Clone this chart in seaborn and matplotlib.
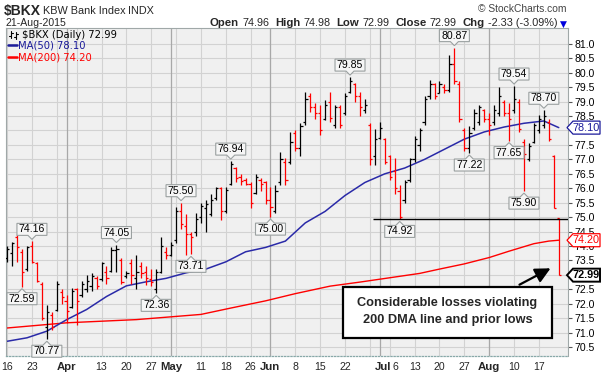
import matplotlib
matplotlib.use("Agg")
import matplotlib.pyplot as plt
import seaborn as sns
import numpy as np
import pandas as pd
from matplotlib import font_manager
from matplotlib.transforms import IdentityTransform
from matplotlib.patches import Polygon, FancyArrowPatch, Rectangle
from matplotlib.lines import Line2D

# ---------------- data ----------------
opens = [73.6, 73.75, 74.3, 73.8, 73.2, 74.0, 73.4, 72.7, 71.2, 71.6,
         71.8, 72.4, 72.1, 71.9, 72.5, 72.3, 72.5, 72.6, 72.9, 72.85,
         73.1, 73.15, 73.85, 73.5, 72.95, 73.4, 72.9, 73.3, 73.1, 72.85,
         72.5, 73.1, 73.8, 73.7, 74.2, 75.2, 74.7, 74.4, 74.5, 75.0,
         75.3, 75.1, 75.65, 76.0, 75.2, 76.15, 76.7, 76.4, 76.3, 76.15,
         75.85, 76.3, 76.2, 75.6, 75.2, 76.2, 76.9, 76.9, 77.9, 77.4,
         78.3, 79.2, 78.8, 78.6, 78.4, 79.0, 78.2, 78.8, 78.6, 79.35,
         79.6, 79.2, 78.7, 78.2, 77.1, 77.75, 77.7, 77.1, 76.6, 75.9,
         75.6, 76.3, 77.0, 77.5, 78.3, 79.2, 79.6, 79.3, 79.5, 79.4,
         80.3, 79.6, 78.0, 77.4, 78.1, 78.3, 78.7, 78.4, 78.3, 78.6,
         79.0, 78.6, 78.7, 79.0, 77.6, 77.0, 77.6, 78.0, 78.2, 78.3,
         77.1, 74.96]
highs = [74.0, 74.15, 74.4, 73.9, 74.0, 74.16, 73.45, 72.75, 71.95, 71.7,
         72.8, 72.5, 72.3, 72.55, 72.55, 72.8, 73.0, 73.05, 72.95, 73.45,
         73.3, 73.95, 74.05, 73.6, 73.15, 73.55, 73.7, 73.45, 73.3, 73.2,
         73.2, 74.3, 73.95, 74.15, 75.35, 75.50, 75.1, 74.5, 75.15, 75.5,
         75.6, 75.8, 76.05, 76.05, 76.05, 76.94, 76.75, 76.5, 76.35, 76.2,
         76.5, 76.35, 76.25, 76.05, 76.1, 77.25, 77.05, 77.95, 78.0, 78.25,
         79.35, 79.3, 78.95, 78.9, 79.05, 79.35, 78.9, 78.9, 79.3, 79.85,
         79.65, 79.35, 79.1, 78.25, 78.05, 78.3, 77.75, 77.15, 77.05, 76.1,
         76.3, 77.05, 77.8, 78.1, 79.2, 79.75, 79.65, 79.7, 79.6, 80.6,
         80.87, 79.7, 78.1, 78.15, 78.75, 78.9, 78.75, 78.6, 78.9, 79.5,
         79.05, 78.95, 79.54, 79.1, 77.7, 77.55, 78.25, 78.55, 78.70, 78.4,
         77.15, 74.98]
lows = [73.45, 73.3, 73.45, 72.59, 73.15, 73.4, 72.75, 71.45, 70.77, 71.1,
        71.75, 72.0, 71.35, 71.85, 71.25, 72.25, 72.4, 72.45, 72.5, 72.8,
        72.7, 73.1, 73.1, 72.7, 72.9, 72.7, 72.5, 72.9, 72.65, 72.6,
        72.36, 73.05, 73.55, 73.65, 74.1, 74.6, 73.7, 73.71, 74.35, 74.8,
        74.5, 75.05, 75.6, 74.9, 75.15, 76.1, 76.2, 76.1, 76.1, 75.3,
        75.8, 75.9, 75.45, 75.00, 75.15, 76.1, 76.1, 76.85, 77.3, 77.1,
        78.2, 78.65, 78.4, 77.85, 78.35, 78.3, 78.1, 78.1, 78.55, 79.3,
        79.0, 78.5, 78.6, 76.8, 76.8, 77.7, 76.85, 76.3, 75.8, 74.92,
        75.5, 76.2, 76.9, 77.3, 78.2, 79.1, 79.1, 79.3, 79.3, 79.35,
        79.6, 78.3, 77.3, 77.22, 78.0, 78.2, 78.3, 77.85, 78.2, 78.5,
        78.5, 77.65, 78.6, 77.95, 75.90, 76.95, 77.55, 77.9, 78.1, 77.65,
        75.32, 72.99]
closes = [73.9, 74.1, 73.95, 73.1, 73.95, 73.45, 72.8, 71.5, 71.7, 71.2,
          72.7, 72.25, 71.75, 72.45, 72.1, 72.7, 72.8, 72.95, 72.6, 73.4,
          72.9, 73.85, 73.9, 72.75, 73.05, 73.0, 73.1, 73.05, 72.9, 72.75,
          73.1, 74.0, 73.7, 74.05, 75.2, 74.75, 74.4, 74.3, 74.95, 75.4,
          75.45, 75.6, 76.0, 75.2, 75.95, 76.85, 76.35, 76.25, 76.15, 75.5,
          76.4, 76.15, 75.6, 75.35, 75.9, 77.0, 76.3, 77.6, 77.4, 78.15,
          79.1, 78.8, 78.6, 78.0, 78.9, 78.45, 78.8, 78.2, 79.2, 79.7,
          79.2, 78.8, 78.9, 77.0, 77.7, 78.1, 76.9, 76.4, 76.0, 75.0,
          76.2, 77.0, 77.7, 78.0, 79.1, 79.6, 79.2, 79.6, 79.4, 80.3,
          79.7, 78.4, 77.4, 77.9, 78.6, 78.8, 78.4, 78.2, 78.7, 79.2,
          78.6, 78.4, 79.1, 78.05, 77.2, 77.45, 78.2, 78.4, 78.5, 77.7,
          75.32, 72.99]

ma50_idx = [0, 4, 8, 12, 16, 20, 24, 28, 32, 36, 40, 44, 48, 52, 56, 60, 64,
            68, 72, 76, 80, 84, 88, 92, 96, 100, 104, 108, 111]
ma50_val = [70.7, 70.82, 71.05, 71.45, 71.8, 72.25, 72.62, 72.76, 72.88, 73.07,
            73.2, 73.45, 73.8, 73.95, 74.17, 74.8, 75.2, 75.75, 76.2, 76.5,
            76.7, 77.0, 77.35, 77.7, 77.95, 78.12, 78.25, 78.33, 78.10]
ma200_idx = [0, 12, 26, 39, 45, 52, 58, 65, 71, 75, 79, 83, 87, 92, 97, 101,
             106, 109, 111]
ma200_val = [71.16, 71.34, 71.45, 71.63, 71.85, 72.1, 72.35, 72.61, 72.75, 72.85,
             72.95, 73.05, 73.2, 73.38, 73.6, 73.82, 74.08, 74.17, 74.20]

tick_pos = [0, 5, 12, 19, 24, 29, 33, 39, 44, 49, 53, 58, 63, 68, 75.6, 78.1, 82,
            87, 92, 97, 102, 107]
tick_labels = ["16", "23", "Apr", "13", "20", "27", "May", "11", "18", "26",
               "Jun", "8", "15", "22", "Jul", "6", "13", "20", "27", "Aug",
               "10", "17"]
month_names = ["Apr", "May", "Jun", "Jul", "Aug"]
week_lines = [0, 5, 10, 14, 19, 24, 29, 34, 39, 44, 49, 53, 58, 63, 68, 73,
              77, 82, 87, 92, 97, 102, 107]
month_lines = [12, 33, 53, 75, 97]

label_bars = [5, 3, 8, 22, 30, 35, 37, 45, 53, 69, 79, 90, 93, 102, 101, 104, 108]
label_kind = ["h", "l", "l", "h", "l", "h", "l", "h", "l", "h", "l", "h", "l",
              "h", "l", "l", "h"]

level_value = 74.95
last_close = 72.99
ma50_last = 78.10
ma200_last = 74.20
hidden_ticks = [78.0, 73.0]   # fully covered by the value tags in the reference

# ---------------- style ----------------
sns.set_style("white")
plt.rcParams['font.family'] = ['Liberation Sans', 'DejaVu Sans']

try:
    font_manager.findfont(font_manager.FontProperties(family='Liberation Sans Narrow',
                                                      weight='bold'),
                          fallback_to_default=False)
    title_font = dict(family=['Liberation Sans Narrow', 'Liberation Sans'], fontsize=12.2)
except Exception:
    title_font = dict(family=['Liberation Sans', 'DejaVu Sans'], fontsize=10)

W, H = 603, 374
fig = plt.figure(figsize=(W / 100, H / 100), dpi=100)
fig.patch.set_facecolor('white')
ax = fig.add_axes([6 / W, 1 - 356 / H, 562 / W, 328 / H])
ax.set_facecolor('#f0f0f0')
XMIN, XMAX = -0.22, 112.86
YMIN, YMAX = 70.19, 81.55
ax.set_xlim(XMIN, XMAX)
ax.set_ylim(YMIN, YMAX)

# grid
yt = np.arange(70.5, 81.01, 0.5)
ax.hlines(yt, XMIN, XMAX, color='#d2d2d2', lw=0.8, zorder=0)
ax.vlines(week_lines, YMIN, YMAX, color='#d2d2d2', lw=0.8, zorder=0)
ax.vlines(month_lines, YMIN, YMAX, color='#a8a8a8', lw=0.9, zorder=0)

# OHLC bars
df = pd.DataFrame({'o': opens, 'h': highs, 'l': lows, 'c': closes})
df['i'] = np.arange(len(df))
prev = df['c'].shift(1).fillna(df['c'].iloc[0] - 1)
df['col'] = np.where(df['c'] >= prev, '#000000', '#ff0000')
tw = 0.45
ax.vlines(df['i'], df['l'], df['h'], colors=df['col'], lw=0.9, zorder=3)
ax.hlines(df['o'], df['i'] - tw, df['i'], colors=df['col'], lw=0.9, zorder=3)
ax.hlines(df['c'], df['i'], df['i'] + tw, colors=df['col'], lw=0.9, zorder=3)

# moving averages
sns.lineplot(x=ma200_idx, y=ma200_val, color='#ff0000', lw=1.0, ax=ax, zorder=2)
sns.lineplot(x=ma50_idx, y=ma50_val, color='#2a2aa8', lw=1.1, ax=ax, zorder=2)

# prior-low level line
ax.hlines(level_value, 73.6, XMAX, color='black', lw=1.0, zorder=4)

# axes styling
for s in ['left', 'top', 'right']:
    ax.spines[s].set_color('#a0a8a8')
    ax.spines[s].set_linewidth(0.8)
ax.spines['bottom'].set_color('#88a8a8')
ax.spines['bottom'].set_linestyle((0, (1, 1.5)))
ax.spines['bottom'].set_linewidth(0.9)

ax.yaxis.tick_right()
ax.set_yticks(yt)
ax.set_yticklabels(["" if any(abs(v - h) < 1e-6 for h in hidden_ticks) else f"{v:.1f}"
                    for v in yt])
ax.tick_params(axis='y', length=3, width=0.8, color='#555555', labelsize=7.6,
               pad=1.5, labelcolor='black')
ax.set_xticks(tick_pos)
ax.set_xticklabels(tick_labels)
ax.tick_params(axis='x', length=0, labelsize=7.6, pad=4)
for t in ax.get_xticklabels():
    if t.get_text() in month_names:
        t.set_fontweight('bold')
        t.set_fontsize(8.2)
ax.set_xlabel('')
ax.set_ylabel('')

fig.canvas.draw()
renderer = fig.canvas.get_renderer()
ID = IdentityTransform()


def px(x, ytop):
    return x, H - ytop


def seq_text(x, ytop, pieces, align='left'):
    arts, widths = [], []
    for txt, props, gap in pieces:
        t = fig.text(0, 0, txt, transform=ID, ha='left', va='baseline', **props)
        w = t.get_window_extent(renderer).width
        arts.append(t)
        widths.append(w + gap)
    total = sum(widths)
    cx = x - total if align == 'right' else x
    for t, w in zip(arts, widths):
        t.set_position((cx, H - ytop))
        cx += w


# header
fig.text(*px(4, 15.5), "$BKX", transform=ID, fontweight='bold',
         va='baseline', **title_font)
fig.text(*px(43, 13.5), "KBW Bank Index", transform=ID, fontsize=7.8, va='baseline')
fig.text(*px(128, 13.5), "INDX", transform=ID, fontsize=7.8, va='baseline')
fig.text(*px(5, 26.5), "21-Aug-2015", transform=ID, fontsize=7.6, va='baseline')
fig.text(*px(567, 12.5), "© StockCharts.com", transform=ID, fontsize=7.4,
         color='#444444', ha='right', va='baseline')
B = dict(fontsize=8.2, fontweight='bold')
N = dict(fontsize=7.8)
seq_text(567, 26.5, [("Open", B, 3), ("74.96", N, 6), ("High", B, 3), ("74.98", N, 6),
                     ("Low", B, 3), ("72.99", N, 6), ("Close", B, 3), ("72.99", N, 6),
                     ("Chg", B, 3), ("-2.33 (-3.09%)", N, 3),
                     ("▼", dict(fontsize=6.5, color='#0000dd', family='DejaVu Sans'), 0)],
         align='right')

# in-plot legend
LF = dict(fontsize=7.2, family='DejaVu Sans')
fig.text(*px(22, 38.5), "$BKX (Daily) 72.99", transform=ID, va='baseline',
         color='black', **LF)
for xx, y1, y2, yo, yc in [(11, 31, 38, 36, 33), (15.5, 32, 38.5, 37, 34)]:
    fig.add_artist(Line2D([xx, xx], [H - y1, H - y2], transform=ID, color='black', lw=0.8))
    fig.add_artist(Line2D([xx - 2, xx], [H - yo, H - yo], transform=ID, color='black', lw=0.8))
    fig.add_artist(Line2D([xx, xx + 2], [H - yc, H - yc], transform=ID, color='black', lw=0.8))
fig.add_artist(Line2D([8, 17], [H - 45, H - 45], transform=ID, color='#1a1a9a', lw=1.8))
fig.text(*px(18, 49), "MA(50) 78.10", transform=ID, va='baseline', color='#1a1a9a', **LF)
fig.add_artist(Line2D([8, 17], [H - 57, H - 57], transform=ID, color='#ff0000', lw=1.8))
fig.text(*px(18, 61), "MA(200) 74.20", transform=ID, va='baseline', color='#ff0000', **LF)

# high / low value labels with pointers
for i, kind in zip(label_bars, label_kind):
    val = highs[i] if kind == 'h' else lows[i]
    X, Y = ax.transData.transform((i, val))
    bw, bh, pt = 30, 12, 4
    xl, xr = X - bw / 2, X + bw / 2
    if kind == 'h':
        yb = Y + 2 + pt
        yt_ = yb + bh
        verts = [(xl, yb), (X - 4, yb), (X, yb - pt), (X + 4, yb), (xr, yb),
                 (xr, yt_), (xl, yt_)]
        ty = yb + bh / 2
    else:
        yt_ = Y - 2 - pt
        yb = yt_ - bh
        verts = [(xl, yt_), (X - 4, yt_), (X, yt_ + pt), (X + 4, yt_), (xr, yt_),
                 (xr, yb), (xl, yb)]
        ty = yb + bh / 2
    fig.add_artist(Polygon(verts, closed=True, transform=ID, fc='#f6f6f6',
                           ec='#9aa0a0', lw=0.8, zorder=5))
    fig.text(X, ty, f"{val:.2f}", transform=ID, ha='center', va='center',
             fontsize=7.6, color='black', zorder=6)

# right-hand value tags
for val, ec, tc, wt, lw in [(ma50_last, '#1a1a9a', '#1a1a9a', 'normal', 0.9),
                             (ma200_last, '#ff0000', '#ff0000', 'normal', 0.9),
                             (last_close, '#000000', '#000000', 'bold', 1.4)]:
    _, Y = ax.transData.transform((0, val))
    x0, x1, hh = 567, 600, 6.5
    verts = [(x0, Y), (x0 + 6, Y + hh), (x1, Y + hh), (x1, Y - hh), (x0 + 6, Y - hh)]
    fig.add_artist(Polygon(verts, closed=True, transform=ID, fc='white', ec=ec,
                           lw=lw, zorder=5))
    fig.text(586, Y, f"{val:.2f}", transform=ID, ha='center', va='center',
             fontsize=7.8, color=tc, fontweight=wt, zorder=6)

# annotation box and arrow
fig.add_artist(Rectangle((343, H - 338), 209, 51, transform=ID, fc='white',
                         ec='black', lw=1.6, zorder=5))
fig.text(447.5, H - 303, "Considerable losses violating", transform=ID,
         ha='center', va='center', fontsize=9.2, fontweight='bold', zorder=6)
fig.text(447.5, H - 320, "200 DMA line and prior lows", transform=ID,
         ha='center', va='center', fontsize=9.2, fontweight='bold', zorder=6)
fig.add_artist(FancyArrowPatch(posA=(517, H - 286), posB=(553, H - 267),
                               transform=ID, arrowstyle='-|>,head_length=0.7,head_width=0.35',
                               mutation_scale=13, color='black', lw=1.6, zorder=6))

fig.savefig("out.png", dpi=100)
